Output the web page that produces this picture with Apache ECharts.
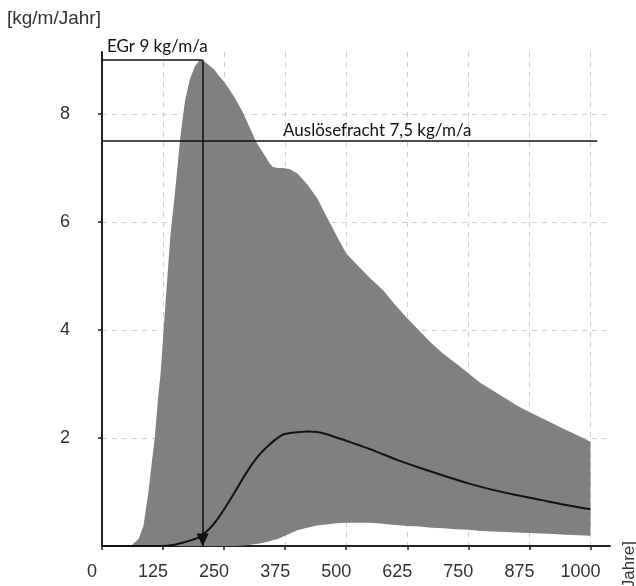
<!DOCTYPE html>
<html>
  <head>
    <meta charset="utf-8" />
    <title>Frachtverlauf</title>
    <style type="text/css">
      html, body { margin: 0; padding: 0; background: #fff; }
      #main { width: 636px; height: 586px; }
    </style>
    <script type="text/javascript" src="https://cdn.jsdelivr.net/npm/echarts@6/dist/echarts.min.js"></script>
  </head>
  <body>
    <div id="main"></div>
    <script type="text/javascript">
    // Jahre, obere und untere Grenze des Bandes
    var years = [0, 50, 60, 65, 75, 85, 95, 100, 108, 115, 120, 130, 140, 150, 160, 170, 180, 190, 200, 210,
      220, 230, 240, 250, 262, 275, 289, 300, 316, 330, 343, 350, 360, 370, 385, 400, 420, 440, 460, 480,
      500, 525, 550, 575, 600, 625, 650, 675, 700, 725, 750, 775, 800, 825, 850, 875, 900, 925, 950, 975, 1000];
    var upper = [0, 0, 0, 0.05, 0.13, 0.38, 1.0, 1.4, 2.0, 2.76, 3.2, 4.5, 5.75, 6.6, 7.55, 8.25, 8.65, 8.88, 9.0, 8.97,
      8.9, 8.82, 8.7, 8.6, 8.44, 8.25, 8.02, 7.8, 7.48, 7.28, 7.09, 7.02, 7.0, 7.0, 6.98, 6.9, 6.7, 6.45, 6.1, 5.75,
      5.42, 5.18, 4.95, 4.74, 4.47, 4.22, 3.98, 3.75, 3.55, 3.38, 3.2, 3.02, 2.88, 2.74, 2.6, 2.48, 2.37, 2.26, 2.15, 2.04, 1.93];
    var lower = [0, 0, 0, 0, 0, 0, 0, 0, 0, 0, 0, 0, 0, 0, 0, 0, 0, 0, 0, 0,
      0, 0, 0, 0, 0, 0, 0.01, 0.02, 0.035, 0.06, 0.09, 0.11, 0.13, 0.17, 0.23, 0.29, 0.34, 0.38, 0.4, 0.42,
      0.43, 0.43, 0.43, 0.41, 0.39, 0.37, 0.36, 0.34, 0.33, 0.31, 0.3, 0.28, 0.27, 0.26, 0.25, 0.24, 0.23, 0.22, 0.21, 0.2, 0.19];

    // mittlere Kurve
    var meanYears = [0, 120, 130, 146, 160, 180, 200, 220, 235, 250, 268, 285, 303, 320, 337, 355, 370, 390, 405, 420,
      440, 460, 480, 500, 525, 550, 575, 600, 650, 700, 750, 800, 850, 900, 950, 1000];
    var mean = [0, 0, 0.005, 0.02, 0.05, 0.1, 0.17, 0.32, 0.48, 0.68, 0.94, 1.2, 1.46, 1.67, 1.83, 1.97, 2.06, 2.1, 2.11, 2.12,
      2.11, 2.07, 2.01, 1.95, 1.87, 1.79, 1.7, 1.61, 1.45, 1.3, 1.16, 1.04, 0.94, 0.85, 0.76, 0.68];

    var xTicks = [0, 125, 250, 375, 500, 625, 750, 875, 1000];
    var yTicks = [2, 4, 6, 8];

    // Hilfslinien
    var egrValue = 9;
    var egrYear = 206;
    var egrStart = -20;
    var ausloeseValue = 7.5;
    var ausloeseEnd = 1014;

    var dom = document.getElementById('main');
    var myChart = echarts.init(dom);

    var meanData = [];
    for (var j = 0; j < meanYears.length; j++) {
      meanData.push([meanYears[j], mean[j]]);
    }

    var tickFont = '"Liberation Sans Narrow", "Arial Narrow", "Liberation Sans", sans-serif';
    var noteFont = 'Lato, "Open Sans", sans-serif';

    // Band zwischen unterer und oberer Grenze als ein Polygon
    function renderBand(params, api) {
      var pts = [];
      for (var i = 0; i < years.length; i++) {
        pts.push(api.coord([years[i], upper[i]]));
      }
      for (var k = years.length - 1; k >= 0; k--) {
        pts.push(api.coord([years[k], lower[k]]));
      }
      return {
        type: 'polygon',
        shape: { points: pts },
        style: { fill: '#808080' }
      };
    }

    var option = {
      animation: false,
      grid: { left: 102, right: 26, top: 52, bottom: 40 },
      xAxis: {
        type: 'value',
        min: 0,
        max: 1040,
        axisLine: { lineStyle: { color: '#222', width: 2 } },
        axisTick: { customValues: xTicks, length: 4, lineStyle: { color: '#222', width: 1.5 } },
        axisLabel: {
          customValues: xTicks,
          margin: 17,
          padding: [0, 20, 0, 0],
          color: '#333',
          fontFamily: tickFont,
          fontSize: 18,
          formatter: function (v) { return String(v); }
        },
        splitLine: { show: true, lineStyle: { color: '#cfcfcf', type: [5, 5], width: 1 } }
      },
      yAxis: {
        type: 'value',
        min: 0,
        max: 9.15,
        axisLine: { show: true, lineStyle: { color: '#222', width: 2 } },
        axisTick: { show: true, customValues: yTicks, length: 4, lineStyle: { color: '#222', width: 1.5 } },
        axisLabel: {
          customValues: yTicks,
          margin: 32,
          color: '#333',
          fontFamily: tickFont,
          fontSize: 18
        },
        splitLine: { show: true, lineStyle: { color: '#cfcfcf', type: [5, 5], width: 1 } }
      },
      series: [
        {
          name: 'Band',
          type: 'custom',
          data: [[0, 0]],
          silent: true,
          renderItem: renderBand,
          z: 1
        },
        {
          name: 'Mittel',
          type: 'line',
          data: meanData,
          showSymbol: false,
          smooth: 0.3,
          z: 3,
          lineStyle: { color: '#111', width: 2 }
        },
        {
          name: 'EGr',
          type: 'line',
          data: [[egrStart, egrValue], [egrYear, egrValue]],
          showSymbol: false,
          clip: false,
          z: 4,
          lineStyle: { color: '#111', width: 1.5 },
          markLine: {
            silent: true,
            symbol: ['none', 'none'],
            label: { show: false },
            lineStyle: { color: '#111', width: 1.5, type: 'solid' },
            data: [
              [
                { coord: [egrYear, egrValue], symbol: 'none' },
                { coord: [egrYear, 0], symbol: 'triangle', symbolSize: [12, 13], symbolOffset: [0, 6] }
              ],
              [
                { coord: [0, ausloeseValue], symbol: 'none' },
                { coord: [ausloeseEnd, ausloeseValue], symbol: 'none' }
              ]
            ]
          }
        }
      ],
      graphic: [
        {
          type: 'text', left: 7, top: 9, z: 100,
          style: { text: '[kg/m/Jahr]', fontFamily: '"Liberation Sans", Arial, sans-serif', fontSize: 19, fill: '#333' }
        },
        {
          type: 'text', x: 107, y: 55, z: 100,
          style: { text: 'EGr 9 kg/m/a', fontFamily: noteFont, fontSize: 17, fill: '#111', verticalAlign: 'bottom' }
        },
        {
          type: 'text', x: 283, y: 139, z: 100,
          style: { text: 'Auslösefracht 7,5 kg/m/a', fontFamily: noteFont, fontSize: 17, fill: '#111', verticalAlign: 'bottom' }
        },
        {
          type: 'text', x: 629, y: 541, rotation: Math.PI / 2, z: 100,
          style: { text: '[Jahre]', fontFamily: '"Liberation Sans", Arial, sans-serif', fontSize: 17, fill: '#333', align: 'right', verticalAlign: 'middle' }
        }
      ]
    };

    myChart.setOption(option);
    </script>
  </body>
</html>
